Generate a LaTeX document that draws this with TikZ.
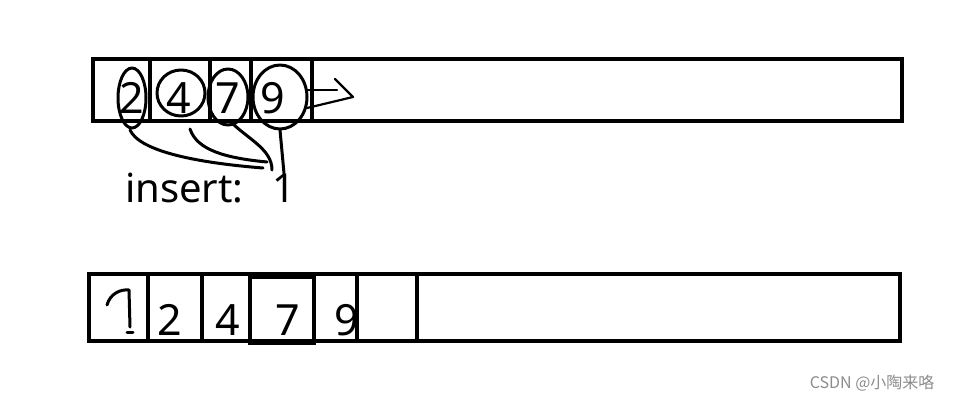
\documentclass[tikz,border=0pt]{standalone}
\usepackage{fontspec}
\setmainfont{Noto Sans}
\newfontfamily\cjk{Noto Sans CJK SC}
\tikzset{
  digit/.style={font=\fontsize{43}{43}\selectfont, inner sep=0pt},
  box/.style={line width=4.6pt},
  hand/.style={line width=3pt, line cap=round, line join=round}
}
\begin{document}
\begin{tikzpicture}[x=1pt,y=-1pt]
\useasboundingbox (0,0) rectangle (954,402);

% top array
\draw[box] (93,59) rectangle (902,121);
\foreach \x in {150,210,251,312}
\draw[box] (\x,59) -- (\x,121);
\node[digit] (t2) at (132,98) {2};
\node[digit] (t4) at (179,98) {4};
\node[digit] (t7) at (228,98) {7};
\node[digit] (t9) at (273,98) {9};

\draw[hand] (t2) ellipse [x radius=14pt, y radius=30pt];
\draw[hand] (181,93) ellipse [x radius=24pt, y radius=23pt];
\draw[hand] (228,97) ellipse [x radius=20pt, y radius=28pt];
\draw[hand] (280,97) ellipse [x radius=27pt, y radius=32pt];

% shift arrow
\draw[hand,line width=2.2pt] (307,90) -- (337,90);
\draw[hand,line width=2.2pt] (335,79) -- (353,97) -- (307,108);

% insert text and strokes
\node[font=\fontsize{40}{40}\selectfont, inner sep=0pt, anchor=base west] (ins) at (125,202) {insert:};
\node[font=\fontsize{40}{40}\selectfont, inner sep=0pt, anchor=base] (one) at (284,202) {1};
\draw[hand] (130,130) .. controls (140,152) and (200,163) .. (263,168);
\draw[hand] (190,129) .. controls (197,150) and (225,158) .. (267,162);
\draw[hand] (233,124) .. controls (250,140) and (272,150) .. (272,170);
\draw[hand] (280,130) -- (one.north);

% bottom array
\draw[box] (89,274) rectangle (900,341);
\foreach \x in {148,202,314,357,417}
\draw[box] (\x,274) -- (\x,341);
\draw[box] (250,277) rectangle (314,343);
\node[digit] (b2) at (170,320) {2};
\node[digit] (b4) at (228,320) {4};
\node[digit] (b7) at (288,320) {7};
\node[digit] (b9) at (347,320) {9};
\draw[hand] (107,305) .. controls (110,294) and (120,289) .. (129,290) -- (130,327);
\draw[hand] (127,332) -- (133,332);

\node[text=black!45, font=\cjk\fontsize{16}{16}\selectfont, anchor=east] (mark) at (938,383) {CSDN @小陶来咯};
\end{tikzpicture}
\end{document}
